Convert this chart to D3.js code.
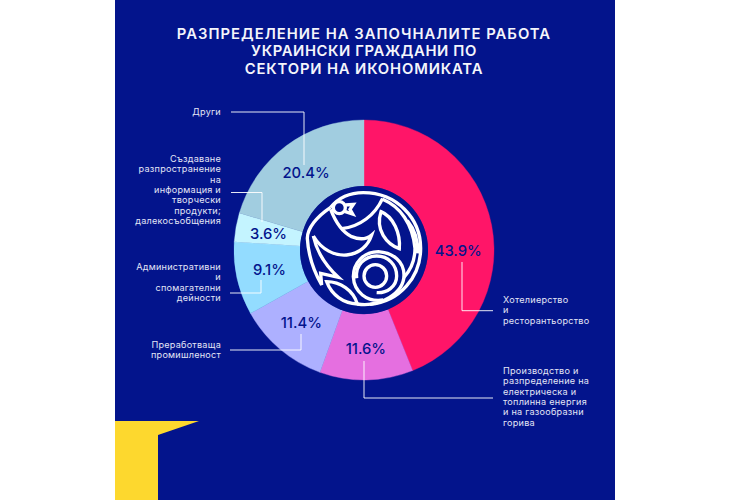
<!DOCTYPE html>
<html><head><meta charset="utf-8">
<script src="https://cdn.jsdelivr.net/npm/d3@7/dist/d3.min.js"></script>
<style>html,body{margin:0;padding:0;background:#fff}svg{display:block}text{font-family:Inter,"Noto Sans",sans-serif}</style>
</head><body><div id="c"></div>
<script>
const titleLines = ["РАЗПРЕДЕЛЕНИЕ НА ЗАПОЧНАЛИТЕ РАБОТА","УКРАИНСКИ ГРАЖДАНИ ПО","СЕКТОРИ НА ИКОНОМИКАТА"];
const categories = ["Хотелиерство и ресторантьорство","Производство и разпределение на електрическа и топлинна енергия и на газообразни горива","Преработваща промишленост","Административни и спомагателни дейности","Създаване разпространение на информация и творчески продукти; далекосъобщения","Други"];
const values = [43.9,11.6,11.4,9.1,3.6,20.4];
const colors = ["#ff1568","#e56fe0","#adb0ff","#93dcff","#c4f4ff","#a1cde0"];
const labelLines = [
 ["Хотелиерство","и","ресторантьорство"],
 ["Производство и","разпределение на","електрическа и","топлинна енергия","и на газообразни","горива"],
 ["Преработваща","промишленост"],
 ["Административни","и","спомагателни","дейности"],
 ["Създаване","разпространение","на","информация и","творчески","продукти;","далекосъобщения"],
 ["Други"]
];
const W=730,H=500,cx=364,cy=250,R=130,Rhub=64;
const navy="#03148c";
const svg=d3.select("#c").append("svg").attr("width",W).attr("height",H);
svg.append("rect").attr("x",115).attr("y",0).attr("width",500).attr("height",H).attr("fill",navy);
svg.append("path").attr("d","M115 421H199L158 435V500H115Z").attr("fill","#fdd82e");

const title=svg.append("g").attr("text-anchor","middle").attr("fill","#f4f5fb").attr("font-size",14.8).attr("font-weight",600);
title.selectAll("text").data(titleLines).join("text").attr("x",cx).attr("y",(d,i)=>38.5+i*17.8).attr("letter-spacing",(d,i)=>[1.02,0.62,0.85][i]).text(d=>d);

const pie=d3.pie().sort(null).value(d=>d);
const arcs=pie(values);
const arc=d3.arc().innerRadius(Rhub).outerRadius(R);
const g=svg.append("g").attr("transform",`translate(${cx},${cy})`);
g.selectAll("path").data(arcs).join("path").attr("d",arc).attr("fill",(d,i)=>colors[i]).attr("stroke",(d,i)=>colors[i]).attr("stroke-width",0.4);
g.append("circle").attr("r",Rhub).attr("fill",navy);

// percentage labels sit at slice centroids (first slice is centred vertically)
const pct=arcs.map((a,i)=>{const c=arc.centroid(a);return i===0?[c[0]-1,0]:c;});
g.selectAll("text.p").data(arcs).join("text").attr("class","p").attr("text-anchor","middle")
 .attr("x",(d,i)=>pct[i][0]).attr("y",(d,i)=>pct[i][1]+5.5+(i===1?2:i===3?-1.5:i===2?-1:0))
 .attr("font-size",14.8).attr("font-weight",500).attr("fill",navy).text(d=>d.value.toFixed(1)+"%");

const leaders=[
 [[462,262],[462,310.7],[493,310.7]],
 [[364,361],[364,398],[493,398]],
 [[301,334],[301,350],[230,350]],
 [[261,280],[261,293],[230,293]],
 [[262,222],[262,192.5],[231,192.5]],
 [[304,165],[304,112],[231,112]]
];
svg.append("g").selectAll("path").data(leaders).join("path").attr("d",d3.line()).attr("fill","none").attr("stroke","#fff").attr("stroke-width",1).attr("opacity",0.9);

const firstBase=[303,374,348,270,162,115];
const lab=svg.append("g").attr("fill","#e3e6f6").attr("font-size",9.1).attr("font-weight",400);
labelLines.forEach((lines,i)=>{
  const right=i<2;
  const step=10.35;
  lab.append("g").attr("text-anchor",right?"start":"end").selectAll("text").data(lines).join("text")
   .attr("x",right?503:221).attr("y",(d,j)=>firstBase[i]+j*step).attr("letter-spacing",0.25).text(d=>d);
});

// emblem (drawn in a 3x space around the hub)
const logo=svg.append("g").attr("transform","translate(280,170) scale(0.3333)").attr("fill","none").attr("stroke","#fff").attr("stroke-width",10).attr("stroke-linejoin","miter");
[
 "M152 112C180 78 215 68 250 68C350 68 422 145 422 235C422 320 360 395 270 403",
 "M152 112C110 140 82 175 82 205C85 260 105 310 125 345L122 310L175 322C135 285 110 245 100 198",
 "M100 198C125 240 165 258 200 255C240 252 265 225 275 195C255 212 235 208 215 200C195 190 170 165 152 118",
 "M185 176C240 170 285 135 308 85",
 "M308 88C360 110 398 160 405 235C405 270 392 300 372 322",
 "M382 152C405 180 415 210 413 250",
 "M303 125C340 140 362 190 358 236C320 222 285 180 303 125Z",
 "M140 335C180 335 220 360 232 402C190 400 155 375 140 335Z",
 "M232 402C300 412 372 370 372 315C372 275 340 248 295 245C250 245 220 280 220 320C222 365 260 398 310 390",
 "M252 318A34 34 0 1 0 320 318A34 34 0 1 0 252 318Z",
 "M230 325C225 285 255 258 290 258C325 258 350 285 350 318C350 350 320 370 290 368"
].forEach(d=>logo.append("path").attr("d",d));
logo.append("circle").attr("cx",178).attr("cy",113).attr("r",18);
logo.append("path").attr("d","M196 105L220 103L210 118L218 132L194 124");
</script></body></html>
